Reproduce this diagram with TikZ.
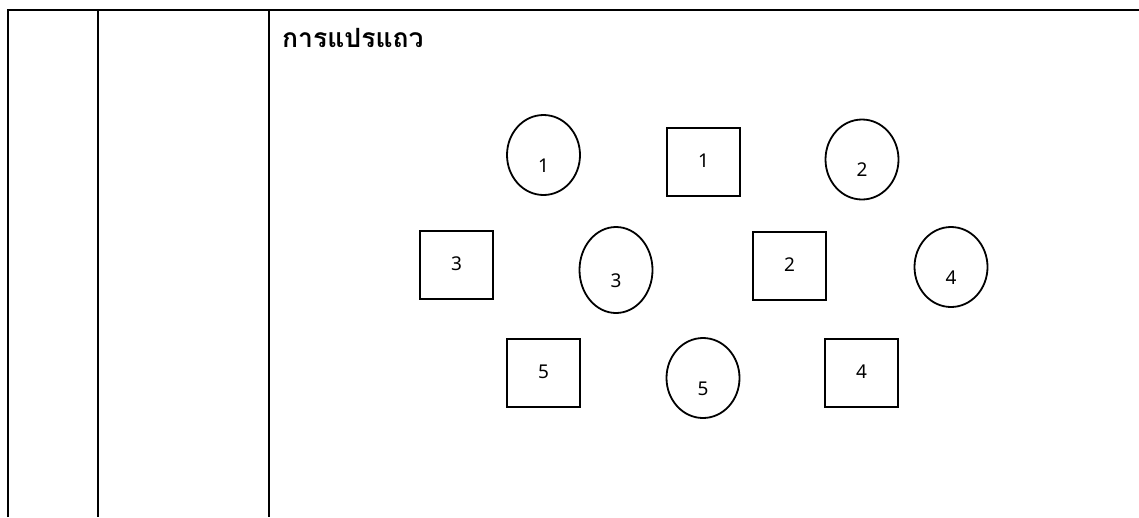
\documentclass[tikz,border=0pt]{standalone}
\usepackage{fontspec}
\usepackage{tikz}
\setmainfont{Noto Sans}
\newfontfamily\thaifont[Script=Thai]{Loma}
\usetikzlibrary{shapes.geometric}

\begin{document}
\begin{tikzpicture}[
  x=1pt, y=-1pt,
  ring/.style={draw=black, ellipse, line width=1.8pt, minimum width=73, minimum height=80, text height=34pt, text depth=0pt, inner sep=0pt, font=\fontsize{19}{22}\selectfont},
  box/.style={draw=black, rectangle, line width=1.9pt, minimum width=73, minimum height=68, text height=14pt, text depth=4pt, inner sep=0pt, font=\fontsize{19}{22}\selectfont},
  rule/.style={line width=2.7pt, draw=black}
]
\useasboundingbox (0,0) rectangle (1139,517);
\draw[rule] (8,517) -- (8,10) -- (1139,10);
\draw[rule] (98,10) -- (98,517);
\draw[rule] (269,10) -- (269,517);

\node[anchor=base west, inner sep=0pt, font=\thaifont\bfseries\fontsize{26.5}{31}\selectfont] (title) at (282,47) {การแปรแถว};

\node[ring] (o1) at (543.5,155) {1};
\node[box] (q1) at (703.5,162) {1};
\node[ring] (o2) at (862,159.5) {2};
\node[box] (q3) at (456.5,265) {3};
\node[ring, minimum height=86] (o3) at (616,270) {3};
\node[box] (q2) at (789.5,266) {2};
\node[ring] (o4) at (951,267) {4};
\node[box] (q5) at (543.5,373) {5};
\node[ring] (o5) at (703,378) {5};
\node[box] (q4) at (861.5,373) {4};
\end{tikzpicture}
\end{document}
